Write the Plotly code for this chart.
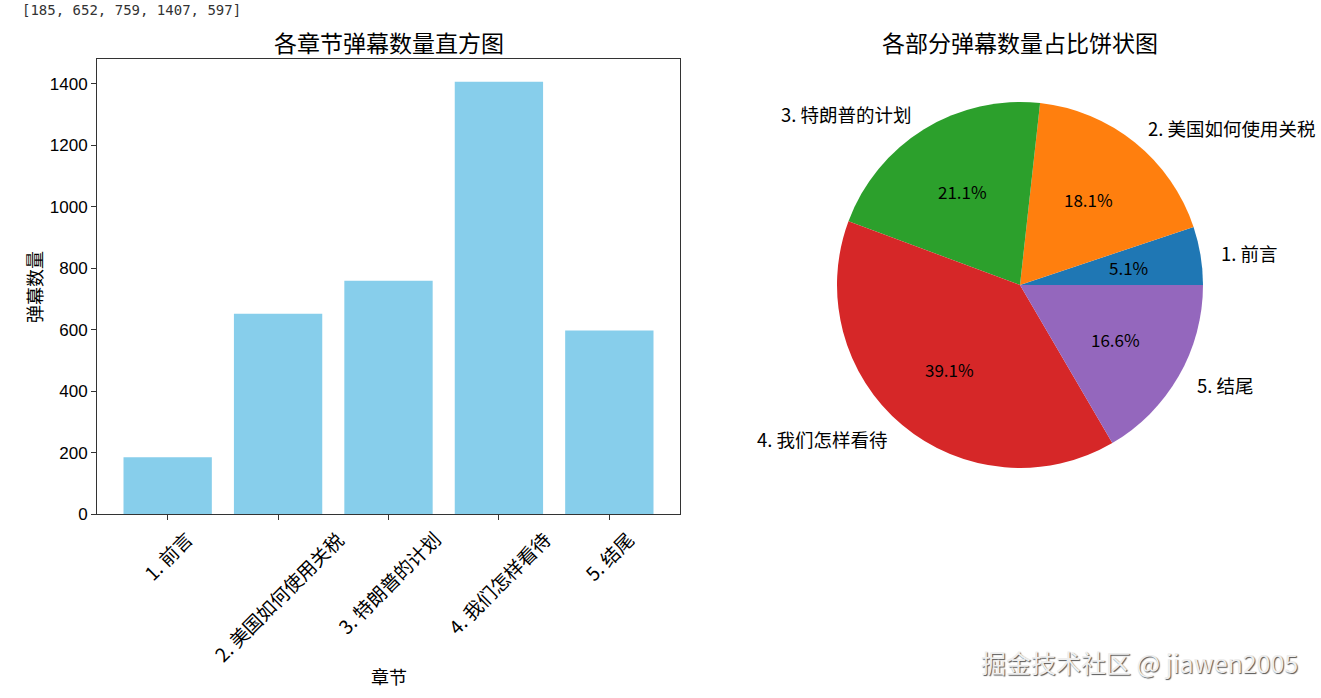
import math
import plotly.graph_objects as go

chapters = ["1. 前言", "2. 美国如何使用关税", "3. 特朗普的计划", "4. 我们怎样看待", "5. 结尾"]
counts = [185, 652, 759, 1407, 597]
pie_colors = ["#1f77b4", "#ff7f0e", "#2ca02c", "#d62728", "#9467bd"]
bar_color = "#87CEEB"
y_ticks = [0, 200, 400, 600, 800, 1000, 1200, 1400]

FONT = "Noto Sans CJK SC, SimHei, sans-serif"
TICKFONT = "Liberation Sans, Arial, sans-serif"
W, H = 1321, 698          # reference frame (all positions below are in it)
PAGE_H = 708              # browser viewport height actually photographed

# layout boxes (paper fractions)
bx0, bx1 = 97 / W, 680 / W
by0, by1 = 1 - 514 / H, 1 - 59 / H

# pie geometry (reference pixels)
PCX, PCY, PR = 1020, 285, 183
pie_dom = dict(x=[(PCX - PR) / W, (PCX + PR) / W], y=[1 - (PCY + PR) / H, 1 - (PCY - PR) / H])

fig = go.Figure()

fig.add_trace(go.Bar(
    x=list(range(len(chapters))), y=counts, width=0.8,
    marker=dict(color=bar_color, line=dict(width=0)),
    xaxis="x", yaxis="y", showlegend=False, hoverinfo="skip",
))

total = sum(counts)
# matplotlib starts first wedge at 3 o'clock going counter-clockwise
first_deg = 360 * counts[0] / total
fig.add_trace(go.Pie(
    labels=chapters, values=counts, sort=False, direction="counterclockwise",
    rotation=90 - first_deg, domain=pie_dom,
    marker=dict(colors=pie_colors, line=dict(width=0)),
    textinfo="none", showlegend=False, hoverinfo="skip",
))

# matplotlib default 5% margins around bars of width 0.8
xpad = 0.05 * (len(chapters) - 1 + 0.8)
fig.update_layout(
    width=W, height=PAGE_H,
    margin=dict(l=0, r=0, t=0, b=0),
    paper_bgcolor="white", plot_bgcolor="white",
    font=dict(family=FONT, size=14, color="black"),
    xaxis=dict(
        domain=[bx0, bx1], range=[-0.4 - xpad, len(chapters) - 1 + 0.4 + xpad],
        tickvals=list(range(len(chapters))), showticklabels=False,
        ticks="outside", ticklen=5, tickcolor="#333",
        showline=True, linecolor="#333", linewidth=1, mirror=True,
        showgrid=False, zeroline=False, anchor="y", fixedrange=True,
    ),
    yaxis=dict(
        domain=[by0, by1], range=[0, 1481],
        tickvals=y_ticks, ticks="outside", ticklen=5, tickcolor="#333",
        tickfont=dict(family=TICKFONT, size=17, color="black"),
        showline=True, linecolor="#333", linewidth=1, mirror=True,
        showgrid=False, zeroline=False, anchor="x", fixedrange=True,
    ),
)

ann = []
# rotated tick labels (matplotlib-style: bbox centred under tick)
for i, c in enumerate(chapters):
    ann.append(dict(x=i, y=by0, xref="x", yref="paper", text=c, showarrow=False,
                    textangle=-45, xanchor="center", yanchor="top", yshift=-9,
                    font=dict(family=FONT, size=19, color="black")))

# pie labels (1.1 r) and percentages (0.6 r)
cum = 0
for c, v in zip(chapters, counts):
    mid = (cum + v / 2) / total * 2 * math.pi
    cum += v
    ux, uy = math.cos(mid), math.sin(mid)
    ann.append(dict(x=(PCX + ux * PR * 1.1) / W, y=1 - (PCY - uy * PR * 1.1) / H,
                    xref="paper", yref="paper", text=c, showarrow=False,
                    xanchor="left" if ux > 0 else "right", yanchor="middle",
                    font=dict(family=FONT, size=18.5, color="black")))
    ann.append(dict(x=(PCX + ux * PR * 0.6) / W, y=1 - (PCY - uy * PR * 0.6) / H,
                    xref="paper", yref="paper", text=f"{v / total * 100:.1f}%", showarrow=False,
                    xanchor="center", yanchor="middle",
                    font=dict(family=FONT, size=17, color="black")))

ann += [
    dict(x=(bx0 + bx1) / 2, y=1 - 42 / H, xref="paper", yref="paper", text="各章节弹幕数量直方图",
         showarrow=False, xanchor="center", yanchor="middle", font=dict(family=FONT, size=23, color="black")),
    dict(x=PCX / W, y=1 - 42 / H, xref="paper", yref="paper", text="各部分弹幕数量占比饼状图",
         showarrow=False, xanchor="center", yanchor="middle", font=dict(family=FONT, size=23, color="black")),
    dict(x=(bx0 + bx1) / 2, y=1 - 676 / H, xref="paper", yref="paper", text="章节",
         showarrow=False, xanchor="center", yanchor="middle", font=dict(family=FONT, size=18, color="black")),
    dict(x=34 / W, y=1 - 287 / H, xref="paper", yref="paper", text="弹幕数量", textangle=-90,
         showarrow=False, xanchor="center", yanchor="middle", font=dict(family=FONT, size=18, color="black")),
    dict(x=20 / W, y=1 - 10 / H, xref="paper", yref="paper", text="[" + ", ".join(str(v) for v in counts) + "]",
         showarrow=False, xanchor="left", yanchor="middle", font=dict(family="DejaVu Sans Mono", size=14, color="#333")),
    dict(x=1300 / W, y=1 - 662 / H, xref="paper", yref="paper", text="掘金技术社区 @ jiawen2005",
         showarrow=False, xanchor="right", yanchor="middle",
         font=dict(family=FONT, size=25, color="#eeeeee", shadow="1px 1px 1px #555")),
]
fig.update_layout(annotations=ann)

fix_page = (
    "var d=document.documentElement,b=document.body;"
    "[d,b].forEach(function(e){e.style.margin='0';e.style.padding='0';"
    "e.style.overflow='hidden';});"
)
fig.write_html("out.html", config={"displayModeBar": False}, post_script=fix_page)
